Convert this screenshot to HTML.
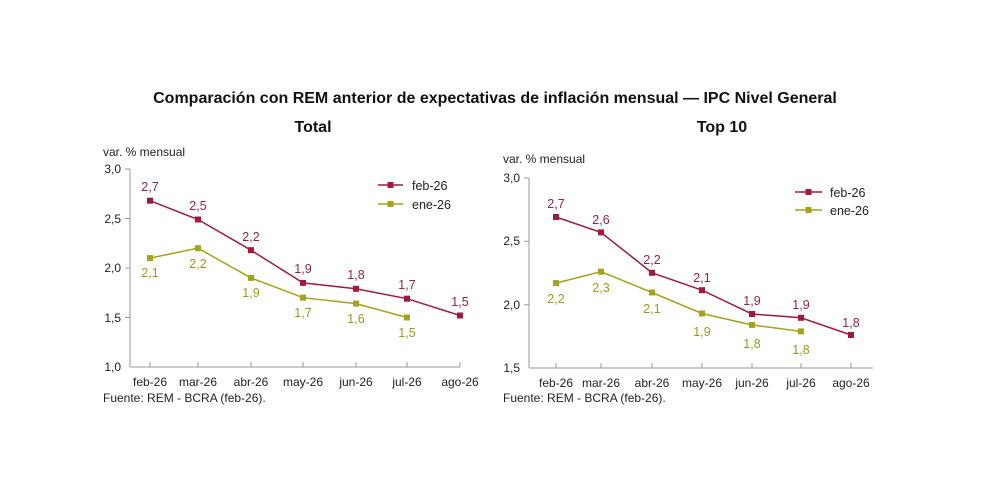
<!DOCTYPE html>
<html><head><meta charset="utf-8"><style>
html,body{margin:0;padding:0;background:#fff;}
svg{display:block;font-family:"Liberation Sans",sans-serif;}
</style></head><body>
<svg width="992" height="496" viewBox="0 0 992 496" xmlns="http://www.w3.org/2000/svg">
<rect width="992" height="496" fill="#fff"/>
<text x="495" y="103" text-anchor="middle" font-size="16" font-weight="bold" fill="#111">Comparación con REM anterior de expectativas de inflación mensual — IPC Nivel General</text>
<text x="313" y="132" text-anchor="middle" font-size="16" font-weight="bold" fill="#111">Total</text>
<text x="722" y="132" text-anchor="middle" font-size="16" font-weight="bold" fill="#111">Top 10</text>

<!-- LEFT -->
<g font-size="12" fill="#222">
<text x="103" y="156">var. % mensual</text>
<line x1="130" y1="169" x2="130" y2="367" stroke="#999"/>
<line x1="130" y1="367" x2="460" y2="367" stroke="#999"/>
<g stroke="#999"><line x1="125" y1="169" x2="130" y2="169"/><line x1="125" y1="218.5" x2="130" y2="218.5"/><line x1="125" y1="268" x2="130" y2="268"/><line x1="125" y1="317.5" x2="130" y2="317.5"/>
<line x1="150" y1="362" x2="150" y2="367"/><line x1="198" y1="362" x2="198" y2="367"/><line x1="251" y1="362" x2="251" y2="367"/><line x1="303" y1="362" x2="303" y2="367"/><line x1="356" y1="362" x2="356" y2="367"/><line x1="407" y1="362" x2="407" y2="367"/><line x1="460" y1="362" x2="460" y2="367"/></g>
<g text-anchor="end"><text x="121" y="173">3,0</text><text x="121" y="223">2,5</text><text x="121" y="272">2,0</text><text x="121" y="322">1,5</text><text x="121" y="371">1,0</text></g>
<g text-anchor="middle"><text x="150" y="386">feb-26</text><text x="198" y="386">mar-26</text><text x="251" y="386">abr-26</text><text x="303" y="386">may-26</text><text x="356" y="386">jun-26</text><text x="407" y="386">jul-26</text><text x="460" y="386">ago-26</text></g>
<text x="103" y="402">Fuente: REM - BCRA (feb-26).</text>
</g>
<polyline points="150,200.7 198,219.5 251,250.2 303,282.9 356,288.8 407,298.7 460,315.5" fill="none" stroke="#a01a3c" stroke-width="1.5"/>
<polyline points="150,258.1 198,248.2 251,277.9 303,297.7 356,303.6 407,317.5" fill="none" stroke="#a3a31f" stroke-width="1.5"/>
<g fill="#a01a3c"><rect x="147" y="197.7" width="6" height="6"/><rect x="195" y="216.5" width="6" height="6"/><rect x="248" y="247.2" width="6" height="6"/><rect x="300" y="279.9" width="6" height="6"/><rect x="353" y="285.8" width="6" height="6"/><rect x="404" y="295.7" width="6" height="6"/><rect x="457" y="312.5" width="6" height="6"/></g>
<g fill="#a3a31f"><rect x="147" y="255.1" width="6" height="6"/><rect x="195" y="245.2" width="6" height="6"/><rect x="248" y="274.9" width="6" height="6"/><rect x="300" y="294.7" width="6" height="6"/><rect x="353" y="300.6" width="6" height="6"/><rect x="404" y="314.5" width="6" height="6"/></g>
<g font-size="12.5" text-anchor="middle" fill="#8e2448"><text x="150" y="191">2,7</text><text x="198" y="210">2,5</text><text x="251" y="241">2,2</text><text x="303" y="273">1,9</text><text x="356" y="279">1,8</text><text x="407" y="289">1,7</text><text x="460" y="306">1,5</text></g>
<g font-size="12.5" text-anchor="middle" fill="#9a9a1c"><text x="150" y="277">2,1</text><text x="198" y="268">2,2</text><text x="251" y="297">1,9</text><text x="303" y="317">1,7</text><text x="356" y="323">1,6</text><text x="407" y="337">1,5</text></g>
<line x1="378" y1="185" x2="403" y2="185" stroke="#a01a3c" stroke-width="1.5"/><rect x="387.5" y="182" width="6" height="6" fill="#a01a3c"/>
<line x1="378" y1="204" x2="403" y2="204" stroke="#a3a31f" stroke-width="1.5"/><rect x="387.5" y="201" width="6" height="6" fill="#a3a31f"/>
<text x="412" y="190" font-size="12.5" fill="#222">feb-26</text><text x="412" y="209" font-size="12.5" fill="#222">ene-26</text>

<!-- RIGHT -->
<g font-size="12" fill="#222">
<text x="503" y="163">var. % mensual</text>
<line x1="529" y1="178" x2="529" y2="368" stroke="#999"/>
<line x1="529" y1="368" x2="873" y2="368" stroke="#999"/>
<g stroke="#999"><line x1="524" y1="178" x2="529" y2="178"/><line x1="524" y1="241.3" x2="529" y2="241.3"/><line x1="524" y1="304.7" x2="529" y2="304.7"/>
<line x1="556" y1="363" x2="556" y2="368"/><line x1="601" y1="363" x2="601" y2="368"/><line x1="652" y1="363" x2="652" y2="368"/><line x1="702" y1="363" x2="702" y2="368"/><line x1="752" y1="363" x2="752" y2="368"/><line x1="801" y1="363" x2="801" y2="368"/><line x1="851" y1="363" x2="851" y2="368"/></g>
<g text-anchor="end"><text x="520" y="182">3,0</text><text x="520" y="245">2,5</text><text x="520" y="309">2,0</text><text x="520" y="372">1,5</text></g>
<g text-anchor="middle"><text x="556" y="387">feb-26</text><text x="601" y="387">mar-26</text><text x="652" y="387">abr-26</text><text x="702" y="387">may-26</text><text x="752" y="387">jun-26</text><text x="801" y="387">jul-26</text><text x="851" y="387">ago-26</text></g>
<text x="503" y="402">Fuente: REM - BCRA (feb-26).</text>
</g>
<polyline points="556,217 601,232.4 652,272.8 702,290.2 752,314 801,317.8 851,335" fill="none" stroke="#a01a3c" stroke-width="1.5"/>
<polyline points="556,283.1 601,271.7 652,292.5 702,313.5 752,325 801,331.4" fill="none" stroke="#a3a31f" stroke-width="1.5"/>
<g fill="#a01a3c"><rect x="553" y="214" width="6" height="6"/><rect x="598" y="229.4" width="6" height="6"/><rect x="649" y="269.8" width="6" height="6"/><rect x="699" y="287.2" width="6" height="6"/><rect x="749" y="311" width="6" height="6"/><rect x="798" y="314.8" width="6" height="6"/><rect x="848" y="332" width="6" height="6"/></g>
<g fill="#a3a31f"><rect x="553" y="280.1" width="6" height="6"/><rect x="598" y="268.7" width="6" height="6"/><rect x="649" y="289.5" width="6" height="6"/><rect x="699" y="310.5" width="6" height="6"/><rect x="749" y="322" width="6" height="6"/><rect x="798" y="328.4" width="6" height="6"/></g>
<g font-size="12.5" text-anchor="middle" fill="#8e2448"><text x="556" y="208">2,7</text><text x="601" y="224">2,6</text><text x="652" y="264">2,2</text><text x="702" y="282">2,1</text><text x="752" y="305">1,9</text><text x="801" y="309">1,9</text><text x="851" y="327">1,8</text></g>
<g font-size="12.5" text-anchor="middle" fill="#9a9a1c"><text x="556" y="303">2,2</text><text x="601" y="292">2,3</text><text x="652" y="313">2,1</text><text x="702" y="336">1,9</text><text x="752" y="348">1,8</text><text x="801" y="354">1,8</text></g>
<line x1="795" y1="192" x2="822" y2="192" stroke="#a01a3c" stroke-width="1.5"/><rect x="805.5" y="189" width="6" height="6" fill="#a01a3c"/>
<line x1="795" y1="210" x2="822" y2="210" stroke="#a3a31f" stroke-width="1.5"/><rect x="805.5" y="207" width="6" height="6" fill="#a3a31f"/>
<text x="830" y="197" font-size="12.5" fill="#222">feb-26</text><text x="830" y="215" font-size="12.5" fill="#222">ene-26</text>
</svg>
</body></html>
